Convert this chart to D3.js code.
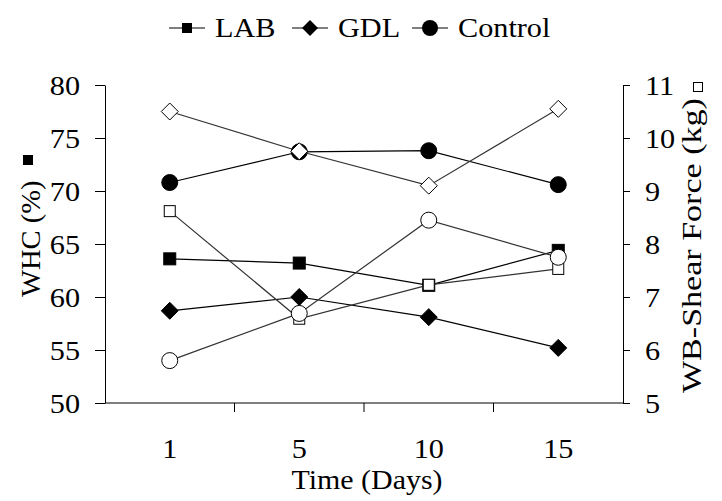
<!DOCTYPE html>
<html>
<head>
<meta charset="utf-8">
<script src="https://cdn.jsdelivr.net/npm/d3@7"></script>
</head>
<body style="margin:0; background:#fff">
<div id="chart"></div>
<script>
// sampling days
const days = ["1", "5", "10", "15"];

// WHC (%) - left axis, filled markers
const labWHC = [63.6, 63.2, 61.1, 64.4];
const gdlWHC = [58.7, 60.0, 58.1, 55.2];
const controlWHC = [70.8, 73.7, 73.8, 70.6];

// WB shear force (kg) - right axis, open markers
const gdlShear = [10.5, 9.75, 9.1, 10.55];
const labShear = [8.62, 6.59, 7.23, 7.53];
const controlShear = [5.8, 6.69, 8.45, 7.75];

const leftTicks = [50, 55, 60, 65, 70, 75, 80];
const rightTicks = [5, 6, 7, 8, 9, 10, 11];

const FONT = "'Liberation Serif', 'Times New Roman', serif";
const FS = 28;
const SX = 1.08; // the original serif text runs a bit wider than Times
const width = 722, height = 501;
const plot = {left: 105, right: 623, top: 85, bottom: 403};

const svg = d3.select("#chart").append("svg")
    .attr("width", width)
    .attr("height", height)
    .style("display", "block")
    .style("font-family", FONT);

const x = d3.scaleBand()
    .domain(days)
    .range([plot.left, plot.right])
    .padding(0);

const yL = d3.scaleLinear().domain([50, 80]).range([plot.bottom, plot.top]);
const yR = d3.scaleLinear().domain([5, 11]).range([plot.bottom, plot.top]);

// text placed at (tx, ty), widened along its own direction
function label(tx, ty, str, anchor, rot, sx) {
  return svg.append("text")
    .attr("transform", "translate(" + tx + "," + ty + ") rotate(" + (rot || 0) + ") scale(" + (sx || SX) + ",1)")
    .attr("text-anchor", anchor || "middle")
    .attr("font-size", FS)
    .attr("fill", "#000")
    .text(str);
}

// left axis
const gL = svg.append("g")
    .attr("transform", "translate(" + plot.left + ",0)")
    .call(d3.axisLeft(yL).tickValues(leftTicks).tickFormat(d3.format("d"))
      .tickSize(10).tickPadding(15).tickSizeOuter(0));

// right axis
const gR = svg.append("g")
    .attr("transform", "translate(" + plot.right + ",0)")
    .call(d3.axisRight(yR).tickValues(rightTicks).tickFormat(d3.format("d"))
      .tickSize(7).tickPadding(15).tickSizeOuter(0));

[gL, gR].forEach(g => {
  g.attr("font-family", null).style("font-family", FONT);
  g.select(".domain").attr("stroke", "#000");
  g.selectAll(".tick line").attr("stroke", "#000");
  g.selectAll(".tick text")
    .attr("font-size", FS)
    .attr("fill", "#000")
    .attr("transform", function() {
      return "translate(" + d3.select(this).attr("x") + ",0) scale(" + SX + ",1)";
    })
    .attr("x", 0)
    .attr("dy", "0.33em");
});

// x axis line, ticks between categories
svg.append("line")
    .attr("x1", plot.left).attr("x2", plot.right)
    .attr("y1", plot.bottom).attr("y2", plot.bottom)
    .attr("stroke", "#000");

svg.selectAll(".xtick")
    .data(days.slice(1))
    .enter()
    .append("line")
    .attr("class", "xtick")
    .attr("x1", d => x(d)).attr("x2", d => x(d))
    .attr("y1", plot.bottom).attr("y2", plot.bottom + 9)
    .attr("stroke", "#000");

days.forEach(d => label(x(d) + x.bandwidth() / 2, 458, d));

label(x("5") + x.bandwidth() + 3, 489, "Time (Days)", "middle", 0, 1.07);

// axis titles, with the small series keys beside them
label(40, 297, "WHC (%)", "start", -90, 1.02);
svg.append("rect")
    .attr("x", 23).attr("y", 155).attr("width", 10).attr("height", 10)
    .attr("fill", "#000");

const rt = label(701, 393, "WB-Shear Force (kg)", "start", -90, 1);
const rtLen = rt.node().getComputedTextLength();
rt.attr("transform", "translate(701,393) rotate(-90) scale(" + (295 / rtLen) + ",1)");
svg.append("rect")
    .attr("x", 693.5).attr("y", 82.5).attr("width", 9).attr("height", 9)
    .attr("fill", "#fff").attr("stroke", "#000").attr("stroke-width", 1);

// marker shapes
function marker(sel, shape, filled) {
  const fill = filled ? "#000" : "#fff";
  if (shape === "square") {
    const s = filled ? 12 : 11;
    sel.append("rect")
      .attr("x", -s / 2).attr("y", -s / 2)
      .attr("width", s).attr("height", s)
      .attr("fill", fill).attr("stroke", "#000").attr("stroke-width", 1);
  } else if (shape === "diamond") {
    const r = 8.5;
    sel.append("path")
      .attr("d", "M0," + (-r) + "L" + r + ",0L0," + r + "L" + (-r) + ",0Z")
      .attr("fill", fill).attr("stroke", "#000").attr("stroke-width", 1);
  } else {
    sel.append("circle")
      .attr("r", 8)
      .attr("fill", fill).attr("stroke", "#000").attr("stroke-width", 1);
  }
}

const series = [
  {values: labWHC, y: yL, shape: "square", filled: true, stroke: "#000"},
  {values: gdlWHC, y: yL, shape: "diamond", filled: true, stroke: "#000"},
  {values: controlWHC, y: yL, shape: "circle", filled: true, stroke: "#000"},
  {values: gdlShear, y: yR, shape: "diamond", filled: false, stroke: "#333"},
  {values: labShear, y: yR, shape: "square", filled: false, stroke: "#333"},
  {values: controlShear, y: yR, shape: "circle", filled: false, stroke: "#333"}
];

series.forEach(s => {
  const pts = days.map((d, i) => [x(d) + x.bandwidth() / 2, s.y(s.values[i])]);
  svg.append("path")
    .attr("d", d3.line()(pts))
    .attr("fill", "none")
    .attr("stroke", s.stroke)
    .attr("stroke-width", 1.2);
  svg.append("g").selectAll("g")
    .data(pts)
    .enter()
    .append("g")
    .attr("transform", p => "translate(" + p[0] + "," + p[1] + ")")
    .each(function() { marker(d3.select(this), s.shape, s.filled); });
});

// legend
const legendItems = [
  {name: "LAB", shape: "square", x: 169},
  {name: "GDL", shape: "diamond", x: 292},
  {name: "Control", shape: "circle", x: 412}
];
const leg = svg.append("g").selectAll("g")
    .data(legendItems)
    .enter()
    .append("g")
    .attr("transform", d => "translate(" + d.x + ",28)");
leg.append("line")
    .attr("x1", 0).attr("x2", 36)
    .attr("stroke", "#000").attr("stroke-width", 1.2);
leg.append("g")
    .attr("transform", "translate(18,0)")
    .each(function(d) {
      const g = d3.select(this);
      if (d.shape === "square") {
        g.append("rect").attr("x", -5).attr("y", -5).attr("width", 10).attr("height", 10).attr("fill", "#000");
      } else if (d.shape === "diamond") {
        g.append("path").attr("d", "M0,-8L8,0L0,8L-8,0Z").attr("fill", "#000");
      } else {
        g.append("circle").attr("r", 8).attr("fill", "#000");
      }
    });
leg.append("text")
    .attr("transform", "translate(46,9) scale(" + SX + ",1)")
    .attr("font-size", FS)
    .text(d => d.name);
</script>
</body>
</html>
